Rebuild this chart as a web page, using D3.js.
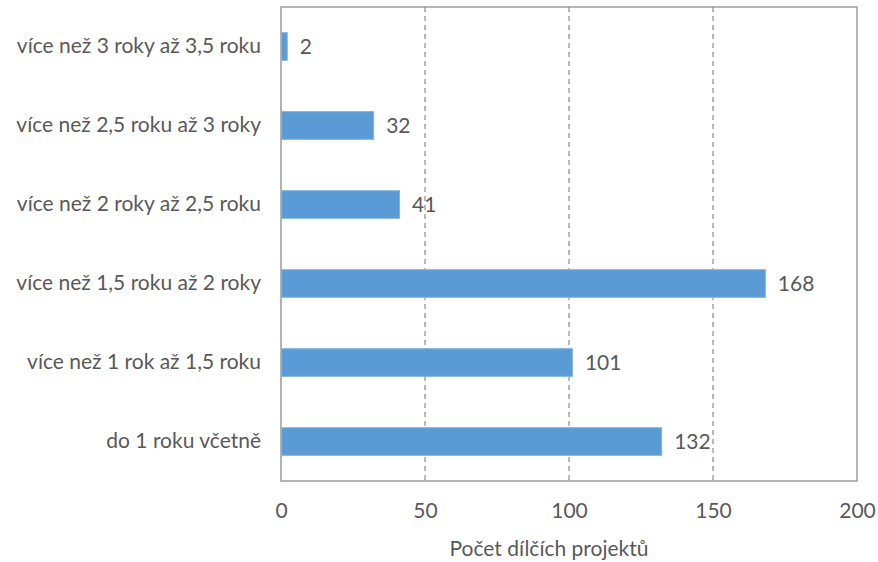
<!DOCTYPE html>
<html>
<head>
<meta charset="utf-8">
<script src="https://cdn.jsdelivr.net/npm/d3@7"></script>
<style>
  body { margin: 0; background: #fff; }
  svg text { font-family: Lato, "Open Sans", sans-serif; fill: #595959; }
</style>
</head>
<body>
<svg id="chart" width="878" height="562"></svg>
<script>
// Duration categories, top to bottom
const categories = [
  "více než 3 roky až 3,5 roku",
  "více než 2,5 roku až 3 roky",
  "více než 2 roky až 2,5 roku",
  "více než 1,5 roku až 2 roky",
  "více než 1 rok až 1,5 roku",
  "do 1 roku včetně"
];
const values = [2, 32, 41, 168, 101, 132];
const xTicks = [0, 50, 100, 150, 200];
const xTitle = "Počet dílčích projektů";

const FS = 21;
const svg = d3.select("#chart");
const margin = { left: 281, right: 21, top: 7, bottom: 81 };
const W = 878, H = 562;

const x = d3.scaleLinear().domain([0, 200]).range([margin.left, W - margin.right]);
const y = d3.scaleBand().domain(categories).range([margin.top, H - margin.bottom]).paddingInner(0.65).paddingOuter(0.325);

// Dashed vertical gridlines
svg.append("g").selectAll("line")
  .data(xTicks.filter(t => t > 0 && t < 200))
  .join("line")
  .attr("x1", d => x(d)).attr("x2", d => x(d))
  .attr("y1", margin.top).attr("y2", H - margin.bottom)
  .attr("stroke", "#8c8c8c").attr("stroke-width", 1.2)
  .attr("stroke-dasharray", "5,4");

// Plot frame
svg.append("rect")
  .attr("x", margin.left).attr("y", margin.top)
  .attr("width", x(200) - x(0)).attr("height", H - margin.bottom - margin.top)
  .attr("fill", "none").attr("stroke", "#8c8c8c").attr("stroke-width", 1.3);

// Bars
svg.append("g").selectAll("rect")
  .data(values)
  .join("rect")
  .attr("x", x(0) + 0.5)
  .attr("y", (d, i) => y(categories[i]))
  .attr("width", d => x(d) - x(0))
  .attr("height", y.bandwidth())
  .attr("fill", "#5b9bd5")
  .attr("stroke", "#7fb2e0").attr("stroke-width", 1);

// Value labels
svg.append("g").selectAll("text")
  .data(values)
  .join("text")
  .attr("x", d => x(d) + 13)
  .attr("y", (d, i) => y(categories[i]) + y.bandwidth() / 2)
  .attr("dy", "0.35em")
  .attr("font-size", FS)
  .text(d => d);

// Category axis labels
const yAxis = d3.axisLeft(y).tickSize(0).tickPadding(20);
svg.append("g")
  .attr("transform", `translate(${margin.left},0)`)
  .call(yAxis)
  .call(g => g.select(".domain").remove())
  .call(g => g.selectAll("text").attr("font-size", FS).style("font-family", "Lato, 'Open Sans', sans-serif").attr("fill", "#595959"));

// Value axis tick labels
const xAxis = d3.axisBottom(x).tickValues(xTicks).tickSize(0).tickPadding(22);
svg.append("g")
  .attr("transform", `translate(0,${H - margin.bottom})`)
  .call(xAxis)
  .call(g => g.select(".domain").remove())
  .call(g => g.selectAll("text").attr("font-size", FS).style("font-family", "Lato, 'Open Sans', sans-serif").attr("fill", "#595959"));

// Axis title
svg.append("text")
  .attr("x", 549).attr("y", 556)
  .attr("text-anchor", "middle")
  .attr("font-size", FS)
  .text(xTitle);
</script>
</body>
</html>
